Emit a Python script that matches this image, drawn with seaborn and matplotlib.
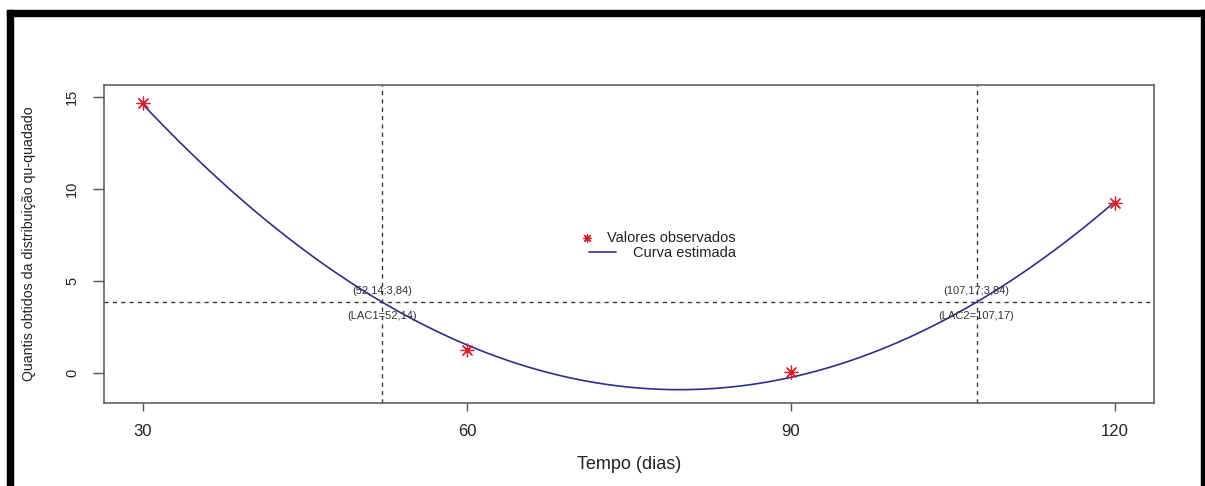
import numpy as np
import pandas as pd
import matplotlib
matplotlib.use("Agg")
import matplotlib.pyplot as plt
import seaborn as sns
from matplotlib.patches import Rectangle

# ---- data ----
tempo = [30, 60, 90, 120]
quantis = [14.67, 1.23, 0.02, 9.21]
lac_x = [52.14, 107.17]
lac_y = 3.84
x_ticks = [30, 60, 90, 120]
y_ticks = [0, 5, 10, 15]
lac_names = ["LAC1", "LAC2"]

sns.set_theme(style="ticks")
plt.rcParams['font.family'] = ['Liberation Sans', 'DejaVu Sans']

fig = plt.figure(figsize=(12.05, 4.86), dpi=100)
fig.patch.set_facecolor("white")
ax = fig.add_axes([0.0863, 0.1708, 0.8714, 0.6543])
ax.set_facecolor("white")

# fitted quadratic (least squares on observed values)
coef = np.polyfit(tempo, quantis, 2)
xs = np.linspace(min(tempo), max(tempo), 400)
curve = pd.DataFrame({"x": xs, "y": np.polyval(coef, xs)})
obs = pd.DataFrame({"x": tempo, "y": quantis})

dash_col = "#3a3a3a"
ax.axhline(lac_y, color=dash_col, lw=1.0, ls=(0, (3, 3)), zorder=1)
for lx in lac_x:
    ax.axvline(lx, color=dash_col, lw=1.0, ls=(0, (3, 3)), zorder=1)

sns.lineplot(data=curve, x="x", y="y", ax=ax, color="#2e2e92", lw=1.2, zorder=3)
sns.scatterplot(data=obs, x="x", y="y", ax=ax, marker=(8, 2, 0), s=85,
                color="#d8202a", edgecolor="#d8202a", linewidth=0.9, zorder=4)

def fmt(v):
    return f"{v:.2f}".replace(".", ",")

for name, lx in zip(lac_names, lac_x):
    ax.text(lx, lac_y + 0.6, f"({fmt(lx)};{fmt(lac_y)})", ha="center", va="center",
            fontsize=8, color="#333333", zorder=5)
    ax.text(lx, lac_y - 0.75, f"({name}={fmt(lx)})", ha="center", va="center",
            fontsize=8, color="#333333", zorder=5)

ax.set_xlim(26.4, 123.6)
ax.set_ylim(-1.65, 15.63)
ax.set_xticks(x_ticks)
ax.set_yticks(y_ticks)
ax.set_xticklabels([str(t) for t in x_ticks], fontsize=12, color="#222222")
ax.set_yticklabels([str(t) for t in y_ticks], fontsize=10.5, color="#222222",
                   rotation=90, va="center")
ax.tick_params(axis="x", length=6, width=1, color="#555555", pad=9, direction="out")
ax.tick_params(axis="y", length=8, width=1, color="#555555", pad=10, direction="out")
for sp in ax.spines.values():
    sp.set_color("#555555")
    sp.set_linewidth(1.1)
    sp.set_visible(True)

ax.set_xlabel("Tempo (dias)", fontsize=13, color="#222222")
ax.set_ylabel("Quantis obtidos da distribuição qu-quadado", fontsize=10.2, color="#222222")
ax.xaxis.set_label_coords(0.5, -0.168)
ax.yaxis.set_label_coords(-0.065, 0.5)

# manual legend (no frame)
ax.scatter([0.4597], [0.518], transform=ax.transAxes, marker=(8, 2, 0), s=30,
           color="#d8202a", linewidths=0.9, zorder=6, clip_on=False)
ax.plot([0.4619, 0.4876], [0.476, 0.476], transform=ax.transAxes, color="#2e2e92",
        lw=1.2, zorder=6)
ax.text(0.602, 0.518, "Valores observados", transform=ax.transAxes, ha="right",
        va="center", fontsize=10.5, color="#222222")
ax.text(0.602, 0.472, "Curva estimada", transform=ax.transAxes, ha="right",
        va="center", fontsize=10.5, color="#222222")

# outer black frame (top, left, right)
W, H = 1205, 486
fig.patches.append(Rectangle((7 / W, 1 - 16 / H), 1 - 7 / W, 6 / H, transform=fig.transFigure,
                             color="black", zorder=10))
fig.patches.append(Rectangle((7 / W, 0), 6 / W, 1 - 10 / H, transform=fig.transFigure,
                             color="black", zorder=10))
fig.patches.append(Rectangle((1201 / W, 0), 4 / W, 1 - 10 / H, transform=fig.transFigure,
                             color="black", zorder=10))

fig.savefig("out.png", dpi=100, facecolor="white")
